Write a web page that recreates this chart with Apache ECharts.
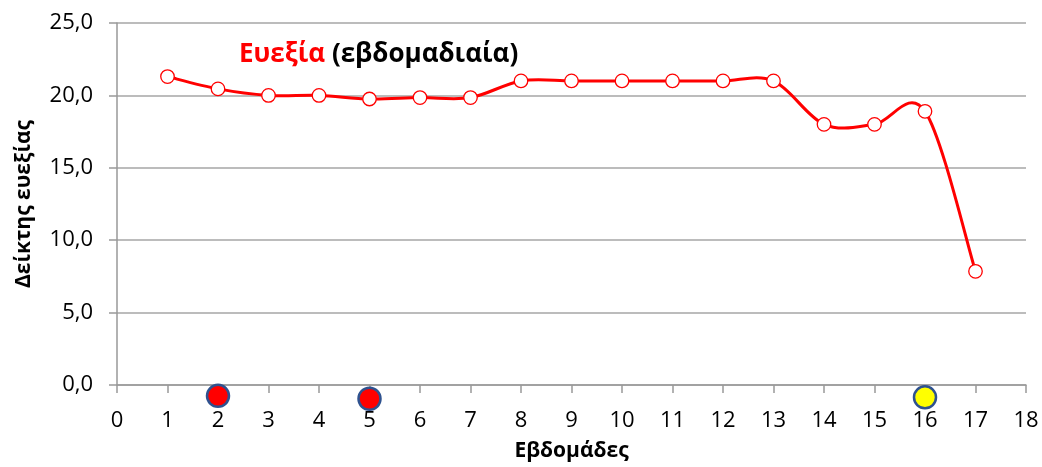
<!DOCTYPE html>
<html><head><meta charset="utf-8">
<script src="https://cdn.jsdelivr.net/npm/echarts@6/dist/echarts.min.js"></script>
<style>html,body{margin:0;padding:0;background:#fff}#c{width:1042px;height:467px}</style>
</head><body><div id="c"></div>
<script>
const weeks = [1,2,3,4,5,6,7,8,9,10,11,12,13,14,15,16,17];
const wellness = [21.3,20.45,20.0,20.0,19.75,19.85,19.85,21.0,21.0,21.0,21.0,21.0,21.0,18.0,18.0,18.9,7.85];
const redMarkWeeks = [2,5];
const redMarkValues = [-0.75,-0.95];
const yellowMarkWeeks = [16];
const yellowMarkValues = [-0.85];
const titleMain = 'Ευεξία';
const titleRest = ' (εβδομαδιαία)';
const xName = 'Εβδομάδες';
const yName = 'Δείκτης ευεξίας';

const font = '"Open Sans", Lato, sans-serif';
const chart = echarts.init(document.getElementById('c'));

// Excel-style (Catmull-Rom) smoothed segment from point i to i+1, via axis scale
function renderSegment(params, api){
  const i = params.dataIndex;
  const n = weeks.length;
  if (i >= n - 1) return null;
  const P = k => api.coord([weeks[Math.max(0,Math.min(n-1,k))], wellness[Math.max(0,Math.min(n-1,k))]]);
  const p0 = P(i-1), p1 = P(i), p2 = P(i+1), p3 = P(i+2);
  const cp1 = [p1[0] + (p2[0]-p0[0])/6, p1[1] + (p2[1]-p0[1])/6];
  const cp2 = [p2[0] - (p3[0]-p1[0])/6, p2[1] - (p3[1]-p1[1])/6];
  return {
    type:'bezierCurve',
    shape:{x1:p1[0],y1:p1[1],cpx1:cp1[0],cpy1:cp1[1],cpx2:cp2[0],cpy2:cp2[1],x2:p2[0],y2:p2[1]},
    style:{stroke:'#ff0000',lineWidth:3,fill:null,lineCap:'round'}
  };
}

chart.setOption({
  animation:false,
  backgroundColor:'#fff',
  title:{
    text:'{a|'+titleMain+'}{b|'+titleRest+'}',
    left:234, top:37,
    textStyle:{rich:{
      a:{color:'#ff0000',fontWeight:'bold',fontSize:26,fontFamily:font},
      b:{color:'#000',fontWeight:'bold',fontSize:26,fontFamily:font}
    }}
  },
  grid:{left:117,right:16,top:23,bottom:82,containLabel:false},
  xAxis:{
    type:'value',min:0,max:18,interval:1,
    name:xName,nameLocation:'middle',nameGap:56,
    nameTextStyle:{fontFamily:font,fontWeight:'bold',fontSize:21,color:'#000'},
    axisLine:{onZero:false,lineStyle:{color:'#999',width:1.5}},
    axisTick:{show:true,length:8,lineStyle:{color:'#999',width:1.5}},
    axisLabel:{fontFamily:font,fontSize:22,color:'#000',margin:25},
    splitLine:{show:false}
  },
  yAxis:{
    type:'value',min:0,max:25,interval:5,
    name:yName,nameLocation:'middle',nameGap:82,nameRotate:90,
    nameTextStyle:{fontFamily:font,fontWeight:'bold',fontSize:21,color:'#000'},
    axisLine:{show:true,lineStyle:{color:'#999',width:1.5}},
    axisTick:{show:true,length:8,lineStyle:{color:'#999',width:1.5}},
    axisLabel:{fontFamily:font,fontSize:22,color:'#000',margin:24,
      formatter:v=>v.toFixed(1).replace('.',',')},
    splitLine:{show:true,lineStyle:{color:'#a6a6a6',width:1.5}}
  },
  series:[
    {type:'custom',renderItem:renderSegment,data:weeks.map((w,i)=>[w,wellness[i]]),z:3},
    {type:'scatter',data:weeks.map((w,i)=>[w,wellness[i]]),
     symbol:'circle',symbolSize:13.5,
     itemStyle:{color:'#fff',borderColor:'#ff0000',borderWidth:1.3,opacity:1},z:4},
    {type:'scatter',clip:false,data:redMarkWeeks.map((w,i)=>[w,redMarkValues[i]]),
     symbolSize:22,itemStyle:{color:'#ff0000',borderColor:'#2f528f',borderWidth:2.5,opacity:1},z:5},
    {type:'scatter',clip:false,data:yellowMarkWeeks.map((w,i)=>[w,yellowMarkValues[i]]),
     symbolSize:22,itemStyle:{color:'#ffff00',borderColor:'#2f528f',borderWidth:2.5,opacity:1},z:5}
  ]
});
</script></body></html>
